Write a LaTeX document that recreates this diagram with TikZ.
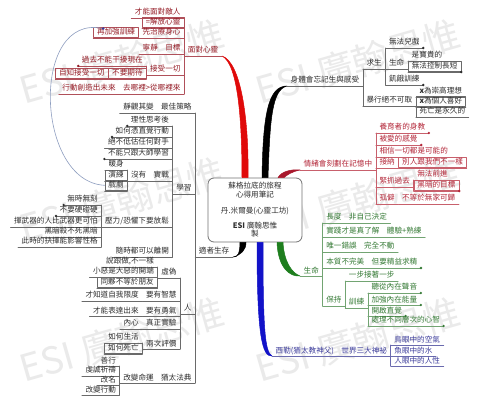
\documentclass[tikz,border=0pt]{standalone}
\usepackage{fontspec}
\setmainfont{Noto Sans CJK TC}
\usepackage{xcolor}
\usepackage{tikz}
\usetikzlibrary{positioning}
\definecolor{mmInk}{HTML}{2E2E2E}
\definecolor{mmLine}{HTML}{6A6A6A}
\definecolor{mmRedMain}{HTML}{E00A0A}
\definecolor{mmRedInk}{HTML}{951C26}
\definecolor{mmRedLine}{HTML}{B0505A}
\definecolor{mmWineMain}{HTML}{A8182C}
\definecolor{mmWineInk}{HTML}{B32638}
\definecolor{mmWineLine}{HTML}{C8606C}
\definecolor{mmGreenMain}{HTML}{1E7E1E}
\definecolor{mmGreenInk}{HTML}{357A35}
\definecolor{mmGreenLine}{HTML}{72A472}
\definecolor{mmBlueMain}{HTML}{1212C8}
\definecolor{mmBlueInk}{HTML}{3A3A9A}
\definecolor{mmBlueLine}{HTML}{6A6AAE}
\definecolor{mmLink}{HTML}{8E9EC0}
\definecolor{mmMark}{HTML}{EAEAEA}
\newcommand{\mmfont}{\fontsize{7.6}{8.5}\selectfont}
\tikzset{
  mm map/.style={x=1pt, y=-1pt, line cap=round, line join=round},
  mm topic/.style={font=\mmfont, inner xsep=3.5pt, inner ysep=1pt,
    text height=7pt, text depth=1.8pt,
    append after command={(\tikzlastnode.south west)
      edge[draw=#1, line width=0.6pt] (\tikzlastnode.south east)}},
  mm box/.style={draw=#1, line width=0.6pt},
  red topic/.style={mm topic=mmRedLine, text=mmRedInk},
  gray topic/.style={mm topic=mmLine, text=mmInk},
  wine topic/.style={mm topic=mmWineLine, text=mmWineInk},
  green topic/.style={mm topic=mmGreenLine, text=mmGreenInk},
  blue topic/.style={mm topic=mmBlueLine, text=mmBlueInk},
  red bar/.style={draw=mmRedLine, line width=0.6pt},
  gray bar/.style={draw=mmLine, line width=0.6pt},
  wine bar/.style={draw=mmWineLine, line width=0.6pt},
  green bar/.style={draw=mmGreenLine, line width=0.6pt},
  blue bar/.style={draw=mmBlueLine, line width=0.6pt},
  mm main/.style={line width=0.5pt},
  mm link/.style={draw=mmLink, line width=0.6pt},
  mm mark/.style={font=\fontsize{37}{37}\selectfont, text=mmMark, rotate=16},
  mm hub/.style={draw=black!55, fill=white, line width=0.8pt,
    rounded corners=6pt, minimum width=94pt, minimum height=64pt,
    align=center, font=\mmfont, text=mmInk}
}

\begin{document}
\begin{tikzpicture}[mm map]
\path[use as bounding box, fill=white] (0,0) rectangle (480,401);
% watermark
\node[mm mark] (mark1) at (122,62) {ESI 廣翰思惟};
\node[mm mark] (mark2) at (358,62) {ESI 廣翰思惟};
\node[mm mark] (mark3) at (122,200) {ESI 廣翰思惟};
\node[mm mark] (mark4) at (358,200) {ESI 廣翰思惟};
\node[mm mark] (mark5) at (122,340) {ESI 廣翰思惟};
\node[mm mark] (mark6) at (358,340) {ESI 廣翰思惟};

\node[mm hub] (hub) at (255,210) {蘇格拉底的旅程\\心得用筆記\\[8pt]丹.米爾曼(心靈工坊)\\[6pt]\textbf{ESI} 廣翰思惟\\製};

% face the mind
\node[red topic, anchor=south east] (face) at (222,56) {面對心靈};
\node[red topic, anchor=south east] (enemy) at (face.south west |- 0,18) {才能面對敵人};
\node[red topic, mm box=mmRedLine, anchor=south east] (free) at (face.south west |- 0,28) {=解放心靈};
\node[red topic, anchor=south east] (heal) at (face.south west |- 0,38) {先治療身心};
\node[red topic, mm box=mmRedLine, anchor=south east] (drill) at (heal.south west |- 0,38) {再加強訓練};
\node[red topic, anchor=south east] (goal) at (face.south west |- 0,54) {目標};
\node[red topic, anchor=south east] (calm) at (goal.south west |- 0,54) {寧靜};
\node[red topic, anchor=south east] (accept) at (face.south west |- 0,75) {接受一切};
\node[red topic, anchor=south east] (past) at (accept.south west |- 0,66) {過去不能干擾現在};
\node[red topic, mm box=mmRedLine, anchor=south east] (noexp) at (accept.south west |- 0,79) {不要期待};
\node[red topic, mm box=mmRedLine, anchor=south east] (selfacc) at (noexp.south west |- 0,79) {自知接受一切};
\node[red topic, anchor=south east] (where) at (face.south west |- 0,94) {去哪裡>從哪裡來};
\node[red topic, anchor=south east] (future) at (where.south west |- 0,94) {行動創造出未來};
\draw[red bar] (face.south west) -- (enemy.south east) (face.south west) -- (where.south east);
\draw[red bar] (accept.south west) -- (past.south east) (accept.south west) -- (noexp.south east);
\fill[mmRedInk] (past.south west) circle (1.3pt);

% body
\node[gray topic, anchor=south west] (body) at (287,86) {身體會忘記生與感受};
\node[gray topic, anchor=south west] (survive) at (body.south east |- 0,69) {求生};
\node[gray topic, anchor=south west] (nogame) at (survive.south east |- 0,48) {無法兒戲};
\node[gray topic, anchor=south west] (lifeb) at (survive.south east |- 0,69) {生命};
\node[gray topic, anchor=south west] (precious) at (lifeb.south east |- 0,61) {是寶貴的};
\node[gray topic, mm box=mmLine, anchor=south west] (span) at (lifeb.south east |- 0,72) {無法控制長短};
\node[gray topic, anchor=south west] (hunger) at (survive.south east |- 0,85) {飢餓訓練};
\node[gray topic, anchor=south west] (violence) at (body.south east |- 0,106) {暴行絕不可取};
\node[gray topic, anchor=south west] (ideal) at (violence.south east |- 0,97) {\textbf{x}為崇高理想};
\node[gray topic, mm box=mmLine, anchor=south west] (taste) at (violence.south east |- 0,107) {\textbf{x}為個人喜好};
\node[gray topic, anchor=south west] (death) at (violence.south east |- 0,117) {死亡是永久的};
\draw[gray bar] (body.south east) -- (survive.south west) (body.south east) -- (violence.south west);
\draw[gray bar] (survive.south east) -- (nogame.south west) (survive.south east) -- (hunger.south west);
\draw[gray bar] (lifeb.south east) -- (precious.south west) (lifeb.south east) -- (span.south west);
\draw[gray bar] (violence.south east) -- (ideal.south west) (violence.south east) -- (death.south west);
\fill[mmInk] (nogame.south east) circle (1.3pt) (span.south east) circle (1.3pt) (hunger.south east) circle (1.3pt);

% emotion
\node[wine topic, anchor=south west] (emo) at (300,170) {情緒會刻劃在記憶中};
\node[wine topic, anchor=south west] (teach) at (emo.south east |- 0,133) {養育者的身教};
\node[wine topic, anchor=south west] (loved) at (emo.south east |- 0,145) {被愛的感覺};
\node[wine topic, anchor=south west] (belief) at (emo.south east |- 0,157) {相信一切都是可能的};
\node[wine topic, anchor=south west] (embrace) at (emo.south east |- 0,168) {接納};
\node[wine topic, mm box=mmWineLine, anchor=south west] (differ) at (embrace.south east |- 0,168) {別人跟我們不一樣};
\node[wine topic, anchor=south west] (cling) at (emo.south east |- 0,187) {緊抓過去};
\node[wine topic, anchor=south west] (stuck) at (cling.south east |- 0,180) {無法前進};
\node[wine topic, mm box=mmWineLine, anchor=south west] (dark) at (cling.south east |- 0,191) {黑暗的目標};
\node[wine topic, anchor=south west] (lonely) at (emo.south east |- 0,204) {孤僻};
\node[wine topic, anchor=south west] (home) at (lonely.south east |- 0,204) {不等於無家可歸};
\draw[wine bar] (emo.south east) -- (teach.south west) (emo.south east) -- (lonely.south west);
\draw[wine bar] (cling.south east) -- (stuck.south west) (cling.south east) -- (dark.south west);
\fill[mmWineInk] (teach.south east) circle (1.3pt) (loved.south east) circle (1.3pt) (dark.south east) circle (1.3pt);

% life
\node[green topic, anchor=south west] (life) at (300,276) {生命};
\node[green topic, anchor=south west] (length) at (life.south east |- 0,223) {長度};
\node[green topic, anchor=south west] (notself) at (length.south east |- 0,223) {非自己決定};
\node[green topic, anchor=south west] (practice) at (life.south east |- 0,237) {實踐才是真了解};
\node[green topic, anchor=south west] (skill) at (practice.south east |- 0,237) {體驗+熟練};
\node[green topic, anchor=south west] (error) at (life.south east |- 0,252) {唯一錯誤};
\node[green topic, anchor=south west] (still) at (error.south east |- 0,252) {完全不動};
\node[green topic, anchor=south west] (flaw) at (life.south east |- 0,268) {本質不完美};
\node[green topic, anchor=south west] (refine) at (flaw.south east |- 0,268) {但要精益求精};
\node[green topic, anchor=south west] (keep) at (life.south east |- 0,306) {保持};
\node[green topic, anchor=south west] (step) at (keep.south east |- 0,281) {一步接著一步};
\node[green topic, anchor=south west] (train) at (keep.south east |- 0,308) {訓練};
\node[green topic, anchor=south west] (voice) at (train.south east |- 0,293) {聽從內在聲音};
\node[green topic, anchor=south west] (energy) at (train.south east |- 0,305) {加強內在能量};
\node[green topic, anchor=south west] (intuit) at (train.south east |- 0,316) {開啟直覺};
\node[green topic, anchor=south west] (levels) at (train.south east |- 0,326) {處理不同層次的心智};
\draw[green bar] (life.south east) -- (length.south west) (life.south east) -- (keep.south west);
\draw[green bar] (keep.south east) -- (step.south west) (keep.south east) -- (train.south west);
\draw[green bar] (train.south east) -- (voice.south west) (train.south east) -- (levels.south west);
\fill[mmGreenInk] (refine.south east) circle (1.3pt) (voice.south east) circle (1.3pt) (energy.south east) circle (1.3pt) (intuit.south east) circle (1.3pt) (levels.south east) circle (1.3pt);

% rabbi
\node[blue topic, anchor=south west] (sile) at (272,356) {西勒(猶太教神父)};
\node[blue topic, anchor=south west] (myst) at (sile.south east |- 0,356) {世界三大神祕};
\node[blue topic, anchor=south west] (bird) at (myst.south east |- 0,345) {鳥眼中的空氣};
\node[blue topic, anchor=south west] (fish) at (myst.south east |- 0,356) {魚眼中的水};
\node[blue topic, anchor=south west] (human) at (myst.south east |- 0,366) {人眼中的人性};
\draw[blue bar] (myst.south east) -- (bird.south west) (myst.south east) -- (human.south west);

% survival
\node[gray topic, anchor=south east] (surv) at (233,257) {適者生存};
\node[gray topic, anchor=south east] (best) at (surv.south west |- 0,113) {最佳策略};
\node[gray topic, anchor=south east] (watch) at (best.south west |- 0,113) {靜觀其變};
\node[gray topic, anchor=south east] (learn) at (surv.south west |- 0,194) {學習};
\node[gray topic, anchor=south east] (reason) at (learn.south west |- 0,126) {理性思考後};
\node[gray topic, anchor=south east] (instinct) at (learn.south west |- 0,137) {如何憑直覺行動};
\node[gray topic, anchor=south east] (rival) at (learn.south west |- 0,148) {絕不低估任何對手};
\node[gray topic, anchor=south east] (master) at (learn.south west |- 0,159) {不能只跟大師學習};
\node[gray topic, anchor=south east] (combat) at (learn.south west |- 0,181) {實戰};
\node[gray topic, anchor=south east] (none) at (combat.south west |- 0,181) {沒有};
\node[gray topic, anchor=south east] (warm) at (none.south west |- 0,170) {暖身};
\node[gray topic, mm box=mmLine, anchor=south east] (rehearse) at (none.south west |- 0,181) {演練};
\node[gray topic, mm box=mmLine, anchor=south east] (drama) at (none.south west |- 0,191) {戲劇};
\node[gray topic, anchor=south east] (relax) at (learn.south west |- 0,227) {壓力/恐懼下要放鬆};
\node[gray topic, anchor=south east] (always) at (relax.south west |- 0,205) {無時無刻};
\node[gray topic, anchor=south east] (soft) at (relax.south west |- 0,216) {不要硬碰硬};
\node[gray topic, anchor=south east] (wielder) at (relax.south west |- 0,227) {揮武器的人比武器更可怕};
\node[gray topic, anchor=south east] (darkness) at (relax.south west |- 0,237) {黑暗殺不死黑暗};
\node[gray topic, anchor=south east] (choice) at (relax.south west |- 0,247) {此時的抉擇能影響性格};
\node[gray topic, anchor=south east] (leave) at (learn.south west |- 0,257) {隨時都可以離開};
\node[gray topic, anchor=south east] (man) at (surv.south west |- 0,314) {人};
\node[gray topic, anchor=south east] (fake) at (man.south west |- 0,278) {虛偽};
\node[gray topic, anchor=south east] (saydo) at (fake.south west |- 0,267) {說跟做,不一樣};
\node[gray topic, anchor=south east] (minor) at (fake.south west |- 0,277) {小惡是大惡的開端};
\node[gray topic, mm box=mmLine, anchor=south east] (gang) at (fake.south west |- 0,288) {同夥不等於朋友};
\node[gray topic, anchor=south east] (wisdom) at (man.south west |- 0,301) {要有智慧};
\node[gray topic, anchor=south east] (limit) at (wisdom.south west |- 0,301) {才知道自我限度};
\node[gray topic, anchor=south east] (courage) at (man.south west |- 0,316) {要有勇氣};
\node[gray topic, anchor=south east] (express) at (courage.south west |- 0,316) {才能表達出來};
\node[gray topic, anchor=south east] (trial) at (man.south west |- 0,329) {真正實驗};
\node[gray topic, anchor=south east] (heart) at (trial.south west |- 0,329) {內心};
\node[gray topic, anchor=south east] (judge) at (man.south west |- 0,349) {兩次評價};
\node[gray topic, anchor=south east] (living) at (judge.south west |- 0,343) {如何生活};
\node[gray topic, mm box=mmLine, anchor=south east] (dying) at (judge.south west |- 0,354) {如何死亡};
\node[gray topic, anchor=south east] (talmud) at (surv.south west |- 0,383) {猶太法典};
\node[gray topic, anchor=south east] (fate) at (talmud.south west |- 0,383) {改變命運};
\node[gray topic, anchor=south east] (deed) at (fate.south west |- 0,366) {善行};
\node[gray topic, anchor=south east] (prayer) at (fate.south west |- 0,376) {虔誠祈禱};
\node[gray topic, anchor=south east] (rename) at (fate.south west |- 0,385) {改名};
\node[gray topic, anchor=south east] (change) at (fate.south west |- 0,395) {改變行動};
\draw[gray bar] (surv.south west) -- (best.south east) (surv.south west) -- (talmud.south east);
\draw[gray bar] (learn.south west) -- (reason.south east) (learn.south west) -- (leave.south east);
\draw[gray bar] (none.south west) -- (warm.south east) (none.south west) -- (drama.south east);
\draw[gray bar] (relax.south west) -- (always.south east) (relax.south west) -- (choice.south east);
\draw[gray bar] (man.south west) -- (fake.south east) (man.south west) -- (judge.south east);
\draw[gray bar] (fake.south west) -- (saydo.south east) (fake.south west) -- (gang.south east);
\draw[gray bar] (judge.south west) -- (living.south east) (judge.south west) -- (dying.south east);
\draw[gray bar] (fate.south west) -- (deed.south east) (fate.south west) -- (change.south east);
\fill[mmInk] (reason.south west) circle (1.3pt) (instinct.south west) circle (1.3pt) (master.south west) circle (1.3pt) (always.south west) circle (1.3pt) (soft.south west) circle (1.3pt);

% main branches, tapered
\filldraw[mm main, mmRedMain] ([xshift=-13pt]hub.north) .. controls (242,120) and (238,64) .. (face.south east)
  .. controls (241,62) and (249,120) .. ([xshift=-7pt]hub.north) -- cycle;
\filldraw[mm main, black] ([xshift=7pt]hub.north) .. controls (263,115) and (268,86) .. (body.south west)
  .. controls (272,90) and (270,118) .. ([xshift=13pt]hub.north) -- cycle;
\filldraw[mm main, mmWineMain] ([xshift=23pt]hub.north) .. controls (281,172) and (290,169) .. (emo.south west)
  .. controls (291,172) and (287,175) .. ([xshift=29pt]hub.north) -- cycle;
\filldraw[mm main, mmGreenMain] ([xshift=22pt]hub.south) .. controls (278,268) and (290,277) .. (life.south west)
  .. controls (292,273) and (284,262) .. ([xshift=28pt]hub.south) -- cycle;
\filldraw[mm main, mmBlueMain] ([xshift=2pt]hub.south) .. controls (257,335) and (262,357) .. (sile.south west)
  .. controls (265,352) and (263,330) .. ([xshift=8pt]hub.south) -- cycle;
\filldraw[mm main, black] ([xshift=-15pt]hub.south) .. controls (240,252) and (238,258) .. (surv.south east)
  .. controls (241,255) and (246,250) .. ([xshift=-9pt]hub.south) -- cycle;

% link
\draw[mm link] (drama.west) .. controls (35,182) and (30,12) .. ([xshift=10pt,yshift=-2pt]drill.north west);
\fill[mmBlueInk] ([xshift=10pt,yshift=-2pt]drill.north west) circle (1.4pt);
\end{tikzpicture}
\end{document}
